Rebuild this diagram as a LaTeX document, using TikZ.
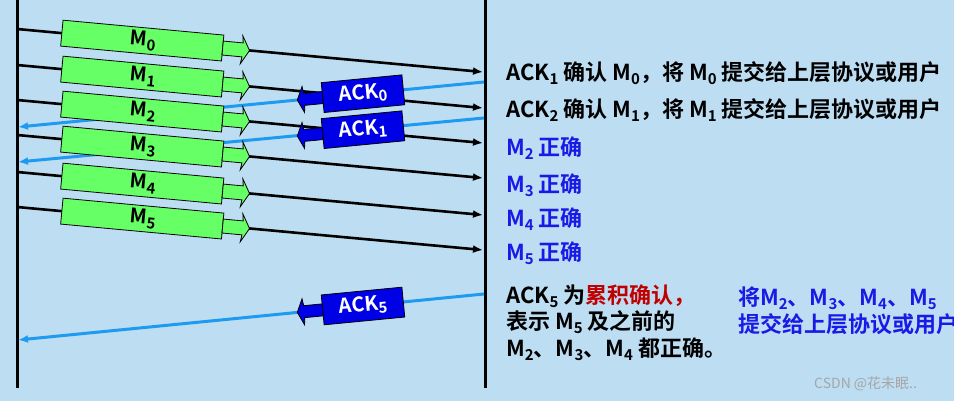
\documentclass[tikz,border=0pt]{standalone}
\usepackage{fontspec}
\setmainfont{Noto Sans CJK SC}[BoldFont={Noto Sans CJK SC Bold}]
\newcommand{\dn}[1]{\raisebox{-0.35ex}{\fontsize{15}{15}\selectfont #1}}
\definecolor{bg}{HTML}{BDDDF2}
\definecolor{grn}{HTML}{66FF66}
\definecolor{ackb}{HTML}{0000E6}
\definecolor{lb}{HTML}{1E9BF0}
\definecolor{txb}{HTML}{1A1AE6}
\definecolor{txr}{HTML}{C00000}
\begin{document}
\begin{tikzpicture}[x=1pt,y=-1pt,
  dat/.style={line width=2.6pt,-{Latex[length=10pt,width=8pt]}},
  ackl/.style={lb,line width=3pt,-{Latex[length=10pt,width=8pt]}},
  box/.style={fill=grn,draw=black,line width=0.8pt},
  abox/.style={fill=ackb,draw=black,line width=0.8pt},
  lbl/.style={anchor=west,inner sep=0pt,font=\fontsize{22}{25}\selectfont\bfseries},
  mlbl/.style={font=\fontsize{20}{24}\selectfont\bfseries},
  alb/.style={text=white,font=\fontsize{20}{24}\selectfont\bfseries}]
\usetikzlibrary{arrows.meta}
\fill[bg] (0,0) rectangle (954,401);
\useasboundingbox (0,0) rectangle (954,401);
% time lines
\coordinate (LT) at (17,0); \coordinate (LB) at (17,388);
\coordinate (RT) at (485,0); \coordinate (RB) at (485,388);
\draw[line width=3pt] (LT) -- (LB);
\draw[line width=3pt] (RT) -- (RB);
% data lines
\foreach \i/\y in {0/29,1/65,2/100,3/135,4/172,5/207}{
  \coordinate (s\i) at (17,\y);
  \coordinate (e\i) at (483,\y+43);
  \draw[dat] (s\i) -- (e\i);
}
% ack lines
\coordinate (a0s) at (484,82); \coordinate (a0e) at (18,127);
\coordinate (a1s) at (484,118); \coordinate (a1e) at (18,162);
\coordinate (a5s) at (484,294); \coordinate (a5e) at (18,340);
\draw[ackl] (a0s) -- (a0e);
\draw[ackl] (a1s) -- (a1e);
\draw[ackl] (a5s) -- (a5e);
% green message boxes
\foreach \i/\y in {0/29,1/65,2/100,3/135,4/172,5/207}{
  \begin{scope}[shift={(143,\y+11.65)},rotate=-5.3]
   \draw[box] (-81.5,-13) rectangle (80,13);
   \draw[box] (80,-7) -- (100,-7) -- (99,-14) -- (107,0) -- (99,14) -- (100,7) -- (80,7) -- cycle;
   \node[mlbl,rotate=-5.3] (m\i) at (0,0) {M\dn{\i}};
  \end{scope}
}
% ack boxes
\foreach \n/\y in {0/93.7,1/129.7,5/306}{
  \begin{scope}[shift={(363,\y)},rotate=5.5]
   \draw[abox] (-40.5,-15) rectangle (40.5,15);
   \draw[abox] (-40.5,-6) -- (-59,-6) -- (-60,-13) -- (-66,0) -- (-60,13) -- (-59,6) -- (-40.5,6) -- cycle;
   \node[alb,rotate=5.5] (k\n) at (0,0) {ACK\dn{\n}};
  \end{scope}
}
% right texts
\node[lbl] (t1) at (506,73) {ACK\dn{1} 确认 M\dn{0}，将 M\dn{0} 提交给上层协议或用户};
\node[lbl] (t2) at (506,110) {ACK\dn{2} 确认 M\dn{1}，将 M\dn{1} 提交给上层协议或用户};
\node[lbl,text=txb] (t3) at (506,148) {M\dn{2} 正确};
\node[lbl,text=txb] (t4) at (506,185) {M\dn{3} 正确};
\node[lbl,text=txb] (t5) at (506,219) {M\dn{4} 正确};
\node[lbl,text=txb] (t6) at (506,253) {M\dn{5} 正确};
\node[lbl] (t7) at (506,296) {ACK\dn{5} 为\textcolor{txr}{累积确认，}};
\node[lbl] (t8) at (506,322) {表示 M\dn{5} 及之前的};
\node[lbl] (t9) at (506,349) {M\dn{2}、M\dn{3}、M\dn{4} 都正确。};
\node[lbl,text=txb] (t10) at (738,298) {将M\dn{2}、M\dn{3}、M\dn{4}、M\dn{5}};
\node[lbl,text=txb] (t11) at (738,324) {提交给上层协议或用户};
\node[anchor=west,inner sep=0pt,text=gray!70,font=\fontsize{14}{16}\selectfont] (wm) at (814,384) {CSDN @花未眠..};
\end{tikzpicture}
\end{document}
